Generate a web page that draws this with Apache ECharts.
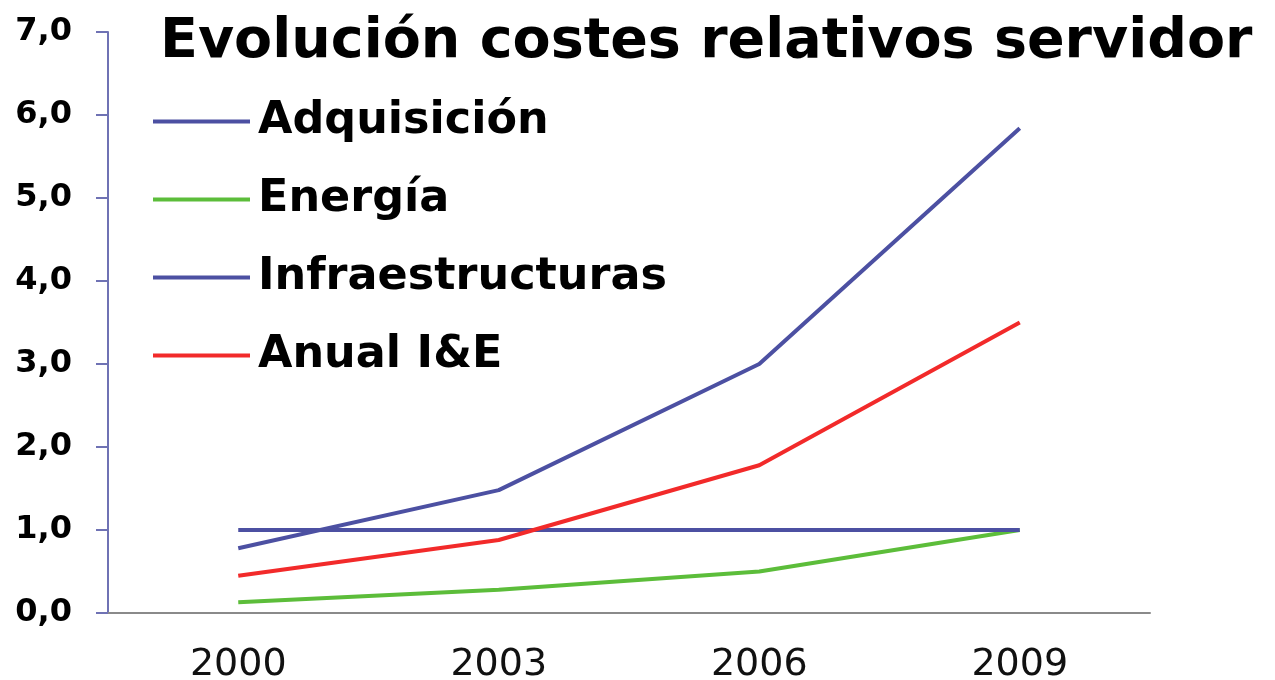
<!DOCTYPE html>
<html>
<head>
<meta charset="utf-8">
<script src="https://cdn.jsdelivr.net/npm/echarts@6/dist/echarts.min.js"></script>
<style>
  html, body { margin: 0; padding: 0; background: #fff; }
  #chart { width: 1275px; height: 680px; }
</style>
</head>
<body>
<div id="chart"></div>
<script>
// categorías y series
const years = ['2000', '2003', '2006', '2009'];
const adquisicion = [0.78, 1.48, 3.0, 5.84];
const energia = [0.13, 0.28, 0.5, 1.0];
const infraestructuras = [1.0, 1.0, 1.0, 1.0];
const anual = [0.45, 0.88, 1.78, 3.5];

const font = '"DejaVu Sans", Verdana, sans-serif';
const blue = '#4c50a2';

function line (name, data, color) {
  return {
    name,
    type: 'line',
    data,
    symbol: 'none',
    silent: true,
    lineStyle: { color, width: 4 },
    itemStyle: { color }
  };
}

const chart = echarts.init(document.getElementById('chart'));
chart.setOption({
  animation: false,
  backgroundColor: '#fff',
  title: {
    text: 'Evolución costes relativos servidor',
    left: 155,
    top: 10,
    textStyle: { fontFamily: font, fontWeight: 'bold', fontSize: 55.5, color: '#000' }
  },
  legend: {
    orient: 'vertical',
    left: 148,
    top: 94,
    icon: 'rect',
    itemWidth: 97,
    itemHeight: 4,
    itemGap: 33,
    textStyle: { fontFamily: font, fontWeight: 'bold', fontSize: 44.5, color: '#000', lineHeight: 44, padding: [0, 0, 0, 3] }
  },
  grid: { left: 108, right: 125, top: 32, bottom: 67, outerBoundsMode: 'none' },
  xAxis: {
    type: 'category',
    data: years,
    boundaryGap: true,
    axisLine: { lineStyle: { color: '#8a8a8a', width: 2 } },
    axisTick: { length: 8, lineStyle: { color: '#8a8a8a', width: 2 } },
    axisLabel: { fontFamily: font, fontSize: 38, color: '#111', margin: 33 }
  },
  yAxis: {
    type: 'value',
    min: 0,
    max: 7,
    interval: 1,
    splitLine: { show: false },
    axisLine: { show: true, lineStyle: { color: '#6f72b4', width: 2 } },
    axisTick: { show: true, length: 12, lineStyle: { color: '#6f72b4', width: 2 } },
    axisLabel: {
      fontFamily: font, fontWeight: 'bold', fontSize: 32, color: '#000', margin: 36,
      formatter: v => v.toFixed(1).replace('.', ',')
    }
  },
  series: [
    line('Adquisición', adquisicion, blue),
    line('Energía', energia, '#5cbd3a'),
    line('Infraestructuras', infraestructuras, blue),
    line('Anual I&E', anual, '#f22a2a')
  ]
});
</script>
</body>
</html>
